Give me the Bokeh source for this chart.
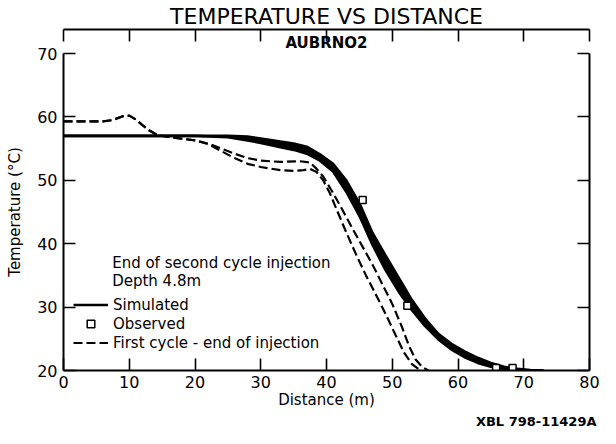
from bokeh.plotting import figure
from bokeh.models import (Range1d, LinearAxis, FixedTicker, Legend, LegendItem,
                          Label, Title, CustomJSTickFormatter)
from bokeh.embed import file_html
from bokeh.resources import INLINE

FONT = "DejaVu Sans"
INK = "black"

# ---- data ----
x_ticks = [0, 10, 20, 30, 40, 50, 60, 70, 80]
y_ticks = [20, 30, 40, 50, 60, 70]

# Simulated (thick band: upper and lower edge)
sim_x = [0, 10, 20, 25, 28, 30, 33, 35, 37, 39, 41, 43, 45, 47, 49, 51, 53, 55,
         57, 59, 61, 63, 65, 67, 69, 71, 73]
sim_hi = [57.0, 57.0, 57.0, 57.0, 56.9, 56.6, 56.1, 55.8, 55.3, 54.1, 52.6, 50.0,
          46.4, 41.7, 38.1, 34.6, 31.1, 28.2, 25.8, 24.2, 23.0, 22.0, 21.2, 20.6,
          20.25, 20.08, 20.0]
sim_lo = [57.0, 57.0, 57.0, 56.8, 56.3, 55.9, 55.2, 54.8, 54.2, 53.1, 51.4, 48.2,
          44.4, 39.8, 35.8, 32.4, 29.5, 27.0, 24.9, 23.3, 22.1, 21.2, 20.6, 20.25,
          20.05, 20.0, 20.0]

# Observed
obs_x = [45.5, 52.3, 65.8, 68.3]
obs_t = [46.9, 30.2, 20.4, 20.4]

# First cycle - end of injection (two dashed curves)
first_a_x = [0, 3, 6, 7.5, 9, 10, 11, 12, 13, 14, 15, 17, 20, 22, 24, 26, 28, 30,
             33, 36, 37.5, 38.5, 39.5, 41, 42.5, 44, 45.5, 47, 48.5, 50, 51.5,
             52.5, 53.5, 54.5, 55.5]
first_a_t = [59.3, 59.3, 59.3, 59.5, 60.1, 60.2, 59.6, 58.7, 57.9, 57.3, 57.0,
             56.7, 56.3, 55.8, 55.0, 54.2, 53.5, 53.1, 52.9, 53.0, 52.8, 51.8,
             50.6, 48.0, 45.2, 42.3, 39.5, 36.7, 33.6, 30.5, 26.8, 24.0, 21.8,
             20.6, 20.0]
first_b_x = [0, 3, 6, 7.5, 9, 10, 11, 12, 13, 14, 15, 17, 20, 22, 24, 26, 28, 30,
             33, 35, 36.5, 37.5, 38.5, 39.5, 40.5, 41.5, 43, 44.5, 46, 47.5, 49,
             50.5, 51.8, 53, 54.3]
first_b_t = [59.3, 59.3, 59.3, 59.5, 60.1, 60.2, 59.6, 58.7, 57.9, 57.3, 57.0,
             56.7, 56.3, 55.7, 54.6, 53.5, 52.6, 52.1, 51.6, 51.5, 51.6, 51.8,
             51.3, 50.0, 48.0, 45.5, 41.8, 38.3, 35.0, 32.0, 28.9, 25.6, 22.8,
             21.0, 20.0]

title_text = "TEMPERATURE VS DISTANCE"
subtitle_text = "AUBRNO2"
x_label = "Distance (m)"
y_label = "Temperature (°C)"
note_lines = ["End of second cycle injection", "Depth 4.8m"]
legend_labels = ["Simulated", "Observed", "First cycle - end of injection"]
credit = "XBL 798-11429A"

# ---- figure ----
p = figure(width=600, height=428, output_backend="svg", toolbar_location=None,
           x_range=Range1d(0, 80), y_range=Range1d(20, 70),
           min_border_left=63, min_border_right=11, min_border_top=52,
           min_border_bottom=10, title=title_text,
           x_axis_label=x_label, y_axis_label=y_label)
p.outline_line_color = None
p.grid.visible = False
p.background_fill_color = "white"
p.border_fill_color = "white"

p.title.text_font = FONT
p.title.text_font_size = "22px"
p.title.text_font_style = "normal"
p.title.text_color = INK
p.title.align = "center"
p.title.standoff = 2
p.add_layout(Title(text=subtitle_text, text_font=FONT, text_font_size="15px",
                   text_font_style="bold", text_color=INK, align="center",
                   standoff=4), "above")

xa = p.xaxis[0]
ya = p.yaxis[0]
xa.ticker = FixedTicker(ticks=x_ticks)
ya.ticker = FixedTicker(ticks=y_ticks)
for ax in (xa, ya):
    ax.axis_line_width = 2
    ax.axis_line_color = INK
    ax.major_tick_line_width = 1.6
    ax.major_tick_line_color = INK
    ax.major_tick_in = 12
    ax.major_tick_out = 0
    ax.minor_tick_line_color = None
    ax.major_label_text_font = FONT
    ax.major_label_text_font_size = "16px"
    ax.major_label_text_color = INK
    ax.major_label_standoff = 6
    ax.axis_label_text_font = FONT
    ax.axis_label_text_font_size = "15px"
    ax.axis_label_text_font_style = "normal"
    ax.axis_label_text_color = INK
xa.major_label_standoff = 5
xa.axis_label_standoff = 0
ya.axis_label_standoff = 10

blank = CustomJSTickFormatter(code="return ''")
top = LinearAxis(ticker=FixedTicker(ticks=x_ticks), formatter=blank)
right = LinearAxis(ticker=FixedTicker(ticks=y_ticks), formatter=blank)
for ax in (top, right):
    ax.axis_line_width = 2
    ax.axis_line_color = INK
    ax.major_tick_line_width = 1.6
    ax.major_tick_line_color = INK
    ax.major_tick_in = 12
    ax.major_tick_out = 0
    ax.minor_tick_line_color = None
    ax.major_label_standoff = 0
    ax.major_label_text_font_size = "1px"
p.add_layout(top, "above")
p.add_layout(right, "right")

# credit line under the axis, right aligned
p.add_layout(Title(text=credit, text_font=FONT, text_font_size="13px",
                   text_font_style="bold", text_color=INK, align="right",
                   offset=-7, standoff=0), "below")

# ---- data glyphs ----
p.varea(x=sim_x, y1=sim_lo, y2=sim_hi, fill_color=INK)
sim_line = p.line(sim_x, sim_hi, line_color=INK, line_width=2.6)
p.line(sim_x, sim_lo, line_color=INK, line_width=2.6)

dash_a = p.line(first_a_x, first_a_t, line_color=INK, line_width=2.2,
                line_dash="9 4")
p.line(first_b_x, first_b_t, line_color=INK, line_width=2.2, line_dash="9 4")

obs = p.scatter(obs_x, obs_t, marker="square", size=7, fill_color="white",
                line_color=INK, line_width=1.5)

# ---- legend / notes ----
legend = Legend(items=[LegendItem(label=legend_labels[0], renderers=[sim_line]),
                       LegendItem(label=legend_labels[1], renderers=[obs]),
                       LegendItem(label=legend_labels[2], renderers=[dash_a])],
                location=(10, 18), border_line_color=None,
                background_fill_alpha=0, glyph_width=35, glyph_height=19,
                label_height=19, spacing=0, padding=0, margin=0,
                label_standoff=5, label_text_font=FONT,
                label_text_font_size="15px", label_text_color=INK)
p.add_layout(legend, "center")

note_y = [37.0, 34.1]
for txt, ty in zip(note_lines, note_y):
    p.add_layout(Label(x=7.4, y=ty, text=txt, text_font=FONT,
                       text_font_size="15px", text_color=INK,
                       text_baseline="middle", text_align="left"))

open("out.html", "w").write(file_html(p, INLINE))
